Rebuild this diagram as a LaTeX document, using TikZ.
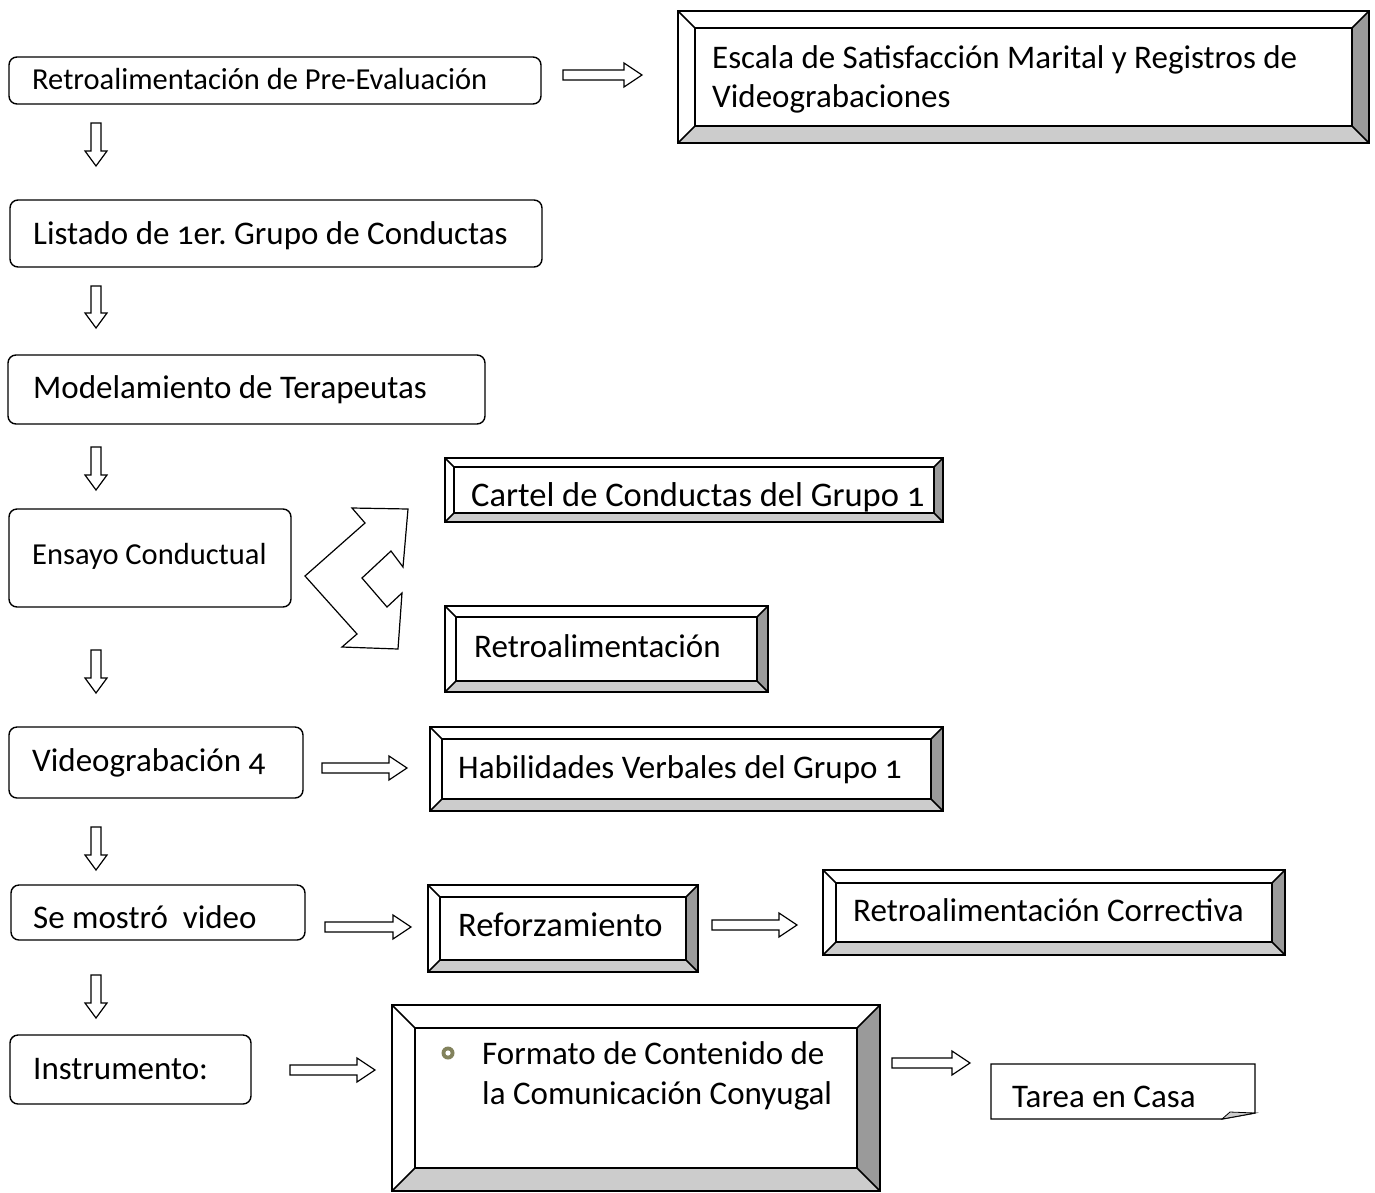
\documentclass[tikz,border=0pt]{standalone}
\usepackage{fontspec}
\setmainfont{Carlito}[Numbers=OldStyle]
\frenchspacing
\definecolor{bevR}{RGB}{154,154,154}
\definecolor{bevB}{RGB}{204,204,204}
\definecolor{bull}{RGB}{130,130,92}
\newcommand\rb[5]{\node[rbox, anchor=north west, minimum width={(#4-#2)*1pt}, minimum height={(#5-#3)*1pt}] (#1) at (#2,#3) {};}
\newcommand\bevelbox[6]{%
  \fill[white] (#2,#3) rectangle (#4,#5);
  \fill[bevR] (#4,#3) -- (#4,#5) -- ({#4-#6},{#5-#6}) -- ({#4-#6},{#3+#6}) -- cycle;
  \fill[bevB] (#2,#5) -- (#4,#5) -- ({#4-#6},{#5-#6}) -- ({#2+#6},{#5-#6}) -- cycle;
  \node[bvbox, anchor=north west, minimum width={(#4-#2)*1pt}, minimum height={(#5-#3)*1pt}] (#1) at (#2,#3) {};
  \draw[bl] ({#2+#6},{#3+#6}) rectangle ({#4-#6},{#5-#6});
  \draw[bl] (#2,#3) -- ({#2+#6},{#3+#6}) (#4,#3) -- ({#4-#6},{#3+#6})
            (#2,#5) -- ({#2+#6},{#5-#6}) (#4,#5) -- ({#4-#6},{#5-#6});
}
\newcommand\harr[3]{\draw[al] (#1,{#3-5}) -- ({#2-18},{#3-5}) -- ({#2-18},{#3-12}) -- (#2,#3) -- ({#2-18},{#3+12}) -- ({#2-18},{#3+5}) -- (#1,{#3+5}) -- cycle;}
\newcommand\varr[3]{\draw[al] ({#1-5},#2) -- ({#1-5},{#3-15}) -- ({#1-11},{#3-15}) -- (#1,#3) -- ({#1+11},{#3-15}) -- ({#1+5},{#3-15}) -- ({#1+5},#2) -- cycle;}
\begin{document}
\begin{tikzpicture}[x=1pt,y=-1pt,
  bl/.style={line width=1.5pt, line join=miter},
  al/.style={line width=1.2pt, fill=white, line join=miter},
  rbox/.style={draw, line width=1.4pt, rounded corners=8pt, inner sep=0pt, outer sep=0pt},
  bvbox/.style={draw, line width=1.5pt, inner sep=0pt, outer sep=0pt},
  txt/.style={anchor=base west, inner sep=0pt, font=\fontsize{33}{40}\selectfont},
  stxt/.style={txt, font=\fontsize{30.5}{36}\selectfont},
  ltxt/.style={txt, font=\fontsize{34.5}{40}\selectfont}]
\useasboundingbox (0,0) rectangle (1375,1192);

% left column rounded boxes
\rb{r1}{9}{57}{541}{104}
\rb{r2}{10}{200}{542}{267}
\rb{r3}{8}{355}{485}{424}
\rb{r4}{9}{509}{291}{607}
\rb{r5}{9}{727}{303}{798}
\rb{r6}{11}{885}{305}{940}
\rb{r7}{10}{1035}{251}{1104}
\node[stxt] (t1) at (32,89) {Retroalimentación de Pre-Evaluación};
\node[txt] (t2) at (33,244) {Listado de 1er. Grupo de Conductas};
\node[txt] (t3) at (33,398) {Modelamiento de Terapeutas};
\node[stxt] (t4) at (32,564) {Ensayo Conductual};
\node[txt] (t5) at (32,771) {Videograbación 4};
\node[txt] (t6) at (33,928) {Se mostró\ \ video};
\node[txt] (t7) at (33,1079) {Instrumento:};

% bevel boxes
\bevelbox{b1}{678}{11}{1369}{143}{17}
\bevelbox{b2}{445}{458}{943}{522}{9}
\bevelbox{b3}{445}{606}{768}{692}{11}
\bevelbox{b4}{430}{727}{943}{811}{12}
\bevelbox{b5}{428}{885}{698}{972}{12}
\bevelbox{b6}{823}{870}{1285}{955}{13}
\bevelbox{b7}{392}{1005}{880}{1191}{23}
\node[txt] (e1) at (712,68) {Escala de Satisfacción Marital y Registros de};
\node[txt] (e2) at (712,107) {Videograbaciones};
\node[ltxt] (c1) at (471,506) {Cartel de Conductas del Grupo 1};
\node[txt] (c2) at (474,657) {Retroalimentación};
\node[txt] (c3) at (458,778) {Habilidades Verbales del Grupo 1};
\node[ltxt] (c4) at (458,936) {Reforzamiento};
\node[txt] (c5) at (853,921) {Retroalimentación Correctiva};
\node[txt] (f1) at (482,1064) {Formato de Contenido de};
\node[txt] (f2) at (482,1104) {la Comunicación Conyugal};
\fill[bull] (448,1053) circle (6.5);
\fill[white] (448,1053) circle (2.6);

% Tarea en casa (folded corner)
\draw[bl, line width=1.3pt, fill=white] (991,1064) -- (1255,1064) -- (1255,1113) -- (1222,1119) -- (991,1119) -- cycle;
\filldraw[bevB, draw=black, line width=0.8pt] (1222,1119) -- (1230,1112) -- (1255,1113) -- cycle;
\node[txt] (tc) at (1012,1107) {Tarea en Casa};

% down arrows
\varr{96}{123}{166}
\varr{96}{286}{328}
\varr{96}{447}{490}
\varr{96}{650}{693}
\varr{96}{827}{870}
\varr{96}{975}{1018}

% right arrows
\harr{563}{642}{75}
\harr{322}{407}{768}
\harr{325}{411}{927}
\harr{712}{797}{925}
\harr{290}{375}{1070}
\harr{892}{970}{1063}

% double bent arrow
\draw[al] (305,576) -- (365,523) -- (352,508) -- (408,509) -- (403,567) -- (391,551)
  -- (362,578) -- (387,607) -- (402,593) -- (398,649) -- (342,647) -- (357,634) -- cycle;
\end{tikzpicture}
\end{document}
